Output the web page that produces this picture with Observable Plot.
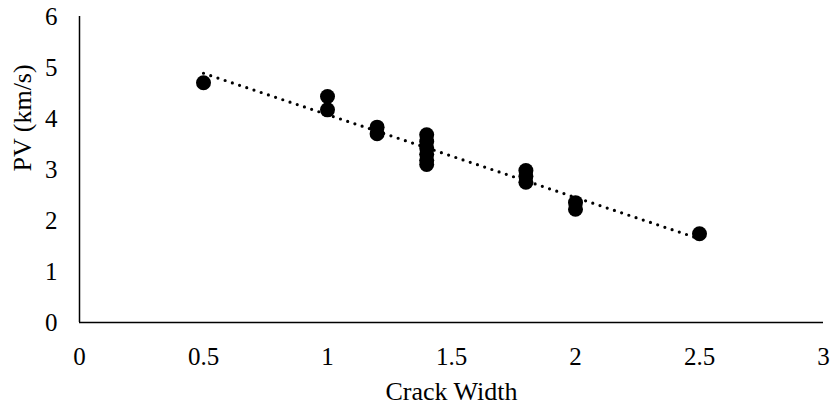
<!DOCTYPE html>
<html>
<head>
<meta charset="utf-8">
<script src="https://cdn.jsdelivr.net/npm/d3@7"></script>
<script src="https://cdn.jsdelivr.net/npm/@observablehq/plot@0.6"></script>
<style>
  html, body { margin: 0; padding: 0; background: #fff; }
  svg, svg text { font-family: "Liberation Serif", "Times New Roman", serif !important; }
</style>
</head>
<body>
<div id="chart"></div>
<script>
const crackWidth = [0.5, 1.0, 1.0, 1.2, 1.2, 1.4, 1.4, 1.4, 1.4, 1.4, 1.4, 1.8, 1.8, 1.8, 2.0, 2.0, 2.5];
const pv =         [4.70, 4.43, 4.17, 3.83, 3.70, 3.68, 3.55, 3.42, 3.30, 3.18, 3.10, 2.98, 2.87, 2.75, 2.35, 2.22, 1.74];
const xTicks = [0, 0.5, 1, 1.5, 2, 2.5, 3];
const yTicks = [0, 1, 2, 3, 4, 5, 6];
const xTitle = "Crack Width";
const yTitle = "PV (km/s)";

const data = crackWidth.map((x, i) => ({x, y: pv[i]}));
const serif = "Liberation Serif";

const chart = Plot.plot({
  width: 830,
  height: 410,
  marginLeft: 79,
  marginRight: 7,
  marginTop: 16,
  marginBottom: 88,
  style: {fontFamily: serif, fontSize: "25px", color: "#000", background: "#fff"},
  x: {domain: [0, 3]},
  y: {domain: [0, 6]},
  marks: [
    Plot.axisX({ticks: xTicks, tickSize: 0, tickPadding: 25, tickFormat: d => String(d), label: null, fontSize: 25, fontFamily: serif}),
    Plot.axisY({ticks: yTicks, tickSize: 0, tickPadding: 22, tickFormat: d => String(d), label: null, fontSize: 25, fontFamily: serif}),
    Plot.ruleY([0], {stroke: "#000", strokeWidth: 1.5}),
    Plot.ruleX([0], {stroke: "#000", strokeWidth: 1.5}),
    Plot.linearRegressionY(data, {x: "x", y: "y", ci: 0, stroke: "#000", strokeWidth: 3.2, strokeDasharray: "0,7.6", strokeLinecap: "round"}),
    Plot.dot(data, {x: "x", y: "y", r: 7.5, fill: "#000", stroke: "none"}),
    Plot.text([xTitle], {text: d => d, frameAnchor: "bottom", lineAnchor: "middle", dy: 69, fontSize: 26, fontFamily: serif, fill: "#000"}),
    Plot.text([yTitle], {text: d => d, frameAnchor: "left", lineAnchor: "middle", rotate: -90, dx: -57, dy: 2, fontSize: 26, fontFamily: serif, fill: "#000"})
  ]
});
document.getElementById("chart").appendChild(chart);
</script>
</body>
</html>
